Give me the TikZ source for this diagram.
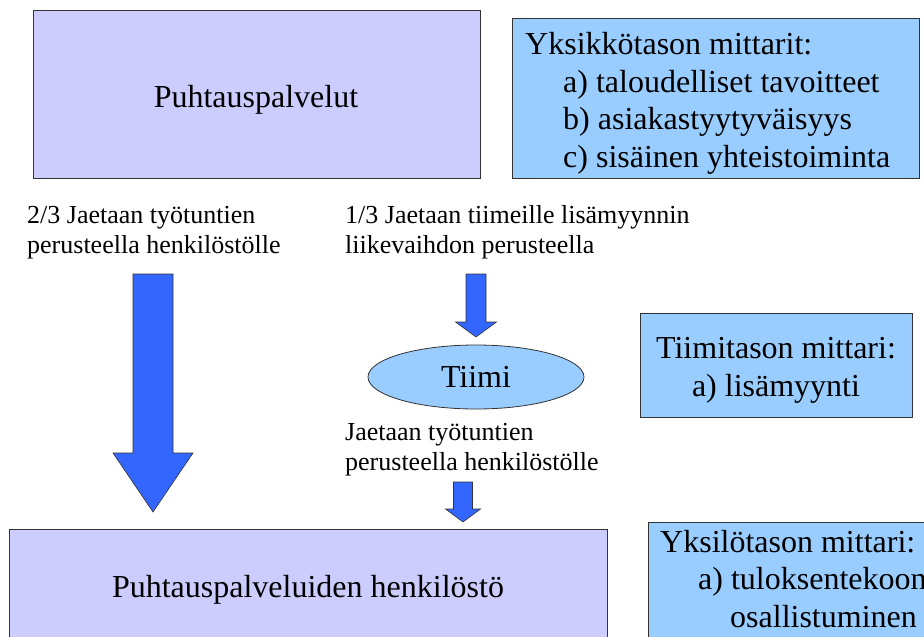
\documentclass[tikz,border=0pt]{standalone}
\usepackage{fontspec}
\setmainfont{Liberation Serif}
\usetikzlibrary{shapes.geometric}
\definecolor{lavender}{HTML}{CCCCFF}
\definecolor{skyblue}{HTML}{99CCFF}
\definecolor{arrowblue}{HTML}{3366FF}
\begin{document}
\begin{tikzpicture}[x=1pt,y=-1pt,
  unitbox/.style={draw=black!80, line width=0.8pt, fill=lavender, inner sep=0pt},
  meterbox/.style={draw=black!80, line width=0.8pt, fill=skyblue, inner sep=0pt},
  bigtext/.style={font=\fontsize{32}{37.5}\selectfont, inner sep=0pt},
  smalltext/.style={font=\fontsize{26}{30}\selectfont, inner sep=0pt, align=left},
  fatarrow/.style={draw=black!80, line width=0.6pt, fill=arrowblue, line join=miter}]
\useasboundingbox (0,0) rectangle (924,637);
\clip (0,0) rectangle (924,637);
% boxes
\node [unitbox, minimum width=447, minimum height=168] (unit) at (256.5,94) {};
\node [bigtext, anchor=base] (unittext) at (256,107) {Puhtauspalvelut};
\node [meterbox, minimum width=407, minimum height=160, anchor=north west] (unitmeter) at (512,18) {};
\node [bigtext, align=left, anchor=base west] (unitmetertext) at (525,167)
  {Yksikkötason mittarit:\\\hspace*{38pt}a) taloudelliset tavoitteet\\\hspace*{38pt}b) asiakastyytyväisyys\\\hspace*{38pt}c) sisäinen yhteistoiminta};
\node [meterbox, minimum width=272, minimum height=104, anchor=north west] (teammeter) at (640,313) {};
\node [bigtext, align=center, anchor=base] (teammetertext) at (776,396) {Tiimitason mittari:\\a) lisämyynti};
\node [unitbox, minimum width=598, minimum height=150, anchor=north west] (staff) at (9,529) {};
\node [bigtext, anchor=base] (stafftext) at (308,597) {Puhtauspalveluiden henkilöstö};
\node [meterbox, minimum width=300, minimum height=150, anchor=north west] (personmeter) at (648,522) {};
\node [bigtext, align=left, anchor=base west] (personmetertext) at (660,627)
  {Yksilötason mittari:\\\hspace*{38pt}a) tuloksentekoon\\\hspace*{70pt}osallistuminen};
% team
\node [ellipse, draw=black!80, line width=0.8pt, fill=skyblue, minimum width=216, minimum height=64, bigtext] (team) at (476,377) {Tiimi};
% labels
\node [smalltext, anchor=base west] (splitleft) at (27,253) {2/3 Jaetaan työtuntien\\perusteella henkilöstölle};
\node [smalltext, anchor=base west] (splitright) at (345,253) {1/3 Jaetaan tiimeille lisämyynnin\\liikevaihdon perusteella};
\node [smalltext, anchor=base west] (teamsplit) at (345,470) {Jaetaan työtuntien\\perusteella henkilöstölle};
% arrows
\coordinate (bigtop) at (153,274);
\coordinate (bigtip) at (153,512);
\draw [fatarrow] (bigtop) ++(-20,0) -- ++(40,0) -- ++(0,179) -- ++(20,0) -- (bigtip) -- ++(-40,-59) -- ++(20,0) -- cycle;
\coordinate (teamtop) at (476,274);
\coordinate (teamtip) at (476,337);
\draw [fatarrow] (teamtop) ++(-10,0) -- ++(20,0) -- ++(0,48) -- ++(10.5,0) -- (teamtip) -- ++(-20.5,-15) -- ++(10.5,0) -- cycle;
\coordinate (stafftop) at (463,482);
\coordinate (stafftip) at (463,522);
\draw [fatarrow] (stafftop) ++(-9.5,0) -- ++(19,0) -- ++(0,27) -- ++(8,0) -- (stafftip) -- ++(-17.5,-13) -- ++(8,0) -- cycle;
\end{tikzpicture}
\end{document}
